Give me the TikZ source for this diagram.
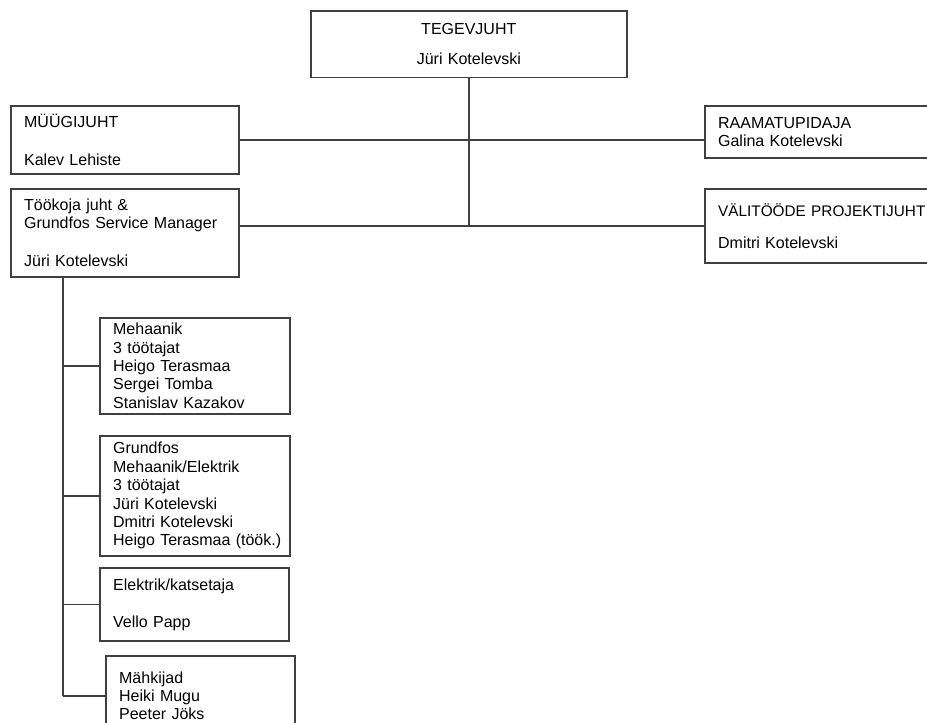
\documentclass[tikz,border=0pt]{standalone}
\usepackage{fontspec}
\setmainfont{Liberation Sans}
\usepackage{tikz}

\tikzset{
  box/.style={draw=black!75, line width=1.2pt, rectangle, anchor=north west,
    inner xsep=10pt, inner ysep=2pt, align=left,
    font=\fontsize{12}{13.8}\selectfont},
  link/.style={draw=black!75, line width=1.2pt},
}

\begin{document}
\begin{tikzpicture}[x=0.75pt, y=-0.75pt]
\clip (0,0) rectangle (927,722);
% Juhtkond
\node[box, align=center, text width=217pt, minimum height=50pt] (ceo) at (310,10) {TEGEVJUHT\\[8.7pt]Jüri Kotelevski};
\node[box, text width=151pt, minimum height=51pt] (sales) at (10,105) {MÜÜGIJUHT\\[14.7pt]Kalev Lehiste};
\node[box, text width=151pt, minimum height=66pt] (works) at (10,188) {Töökoja juht \&\\Grundfos Service Manager\\[14.7pt]Jüri Kotelevski};
\node[box, text width=167.5pt, minimum height=39pt] (acct) at (704,105) {RAAMATUPIDAJA\\Galina Kotelevski};
\node[box, text width=167.5pt, minimum height=55.5pt] (proj) at (704,188) {{\fontsize{11.5}{13.8}\selectfont VÄLITÖÖDE PROJEKTIJUHT}\\[10pt]Dmitri Kotelevski};

% Töökoda
\node[box, text width=122.5pt, minimum height=72pt] (mech) at (99,317) {Mehaanik\\3 töötajat\\Heigo Terasmaa\\Sergei Tomba\\Stanislav Kazakov};
\node[box, text width=122.5pt, minimum height=90pt] (grund) at (99,435) {Grundfos\\Mehaanik/Elektrik\\3 töötajat\\Jüri Kotelevski\\Dmitri Kotelevski\\\mbox{Heigo Terasmaa (töök.)}};
\node[box, text width=122pt, minimum height=55pt] (elek) at (99,567) {Elektrik/katsetaja\\[14pt]Vello Papp};
\node[box, text width=122pt, minimum height=60pt] (mahk) at (105,655) {Mähkijad\\Heiki Mugu\\Peeter Jöks};

% Ühendused
\draw[link] (ceo.south) -- (ceo.south |- proj.west);
\draw[link] (sales.east) -- (sales.east -| acct.west);
\draw[link] (works.east |- proj.west) -- (proj.west);

\coordinate (spine) at (63,276);
\draw[link] (spine) -- (spine |- mahk.west);
\draw[link] (spine |- mech.west) -- (mech.west);
\draw[link] (spine |- grund.west) -- (grund.west);
\draw[link] (spine |- elek.west) -- (elek.west);
\draw[link] (spine |- mahk.west) -- (mahk.west);
\end{tikzpicture}
\end{document}
